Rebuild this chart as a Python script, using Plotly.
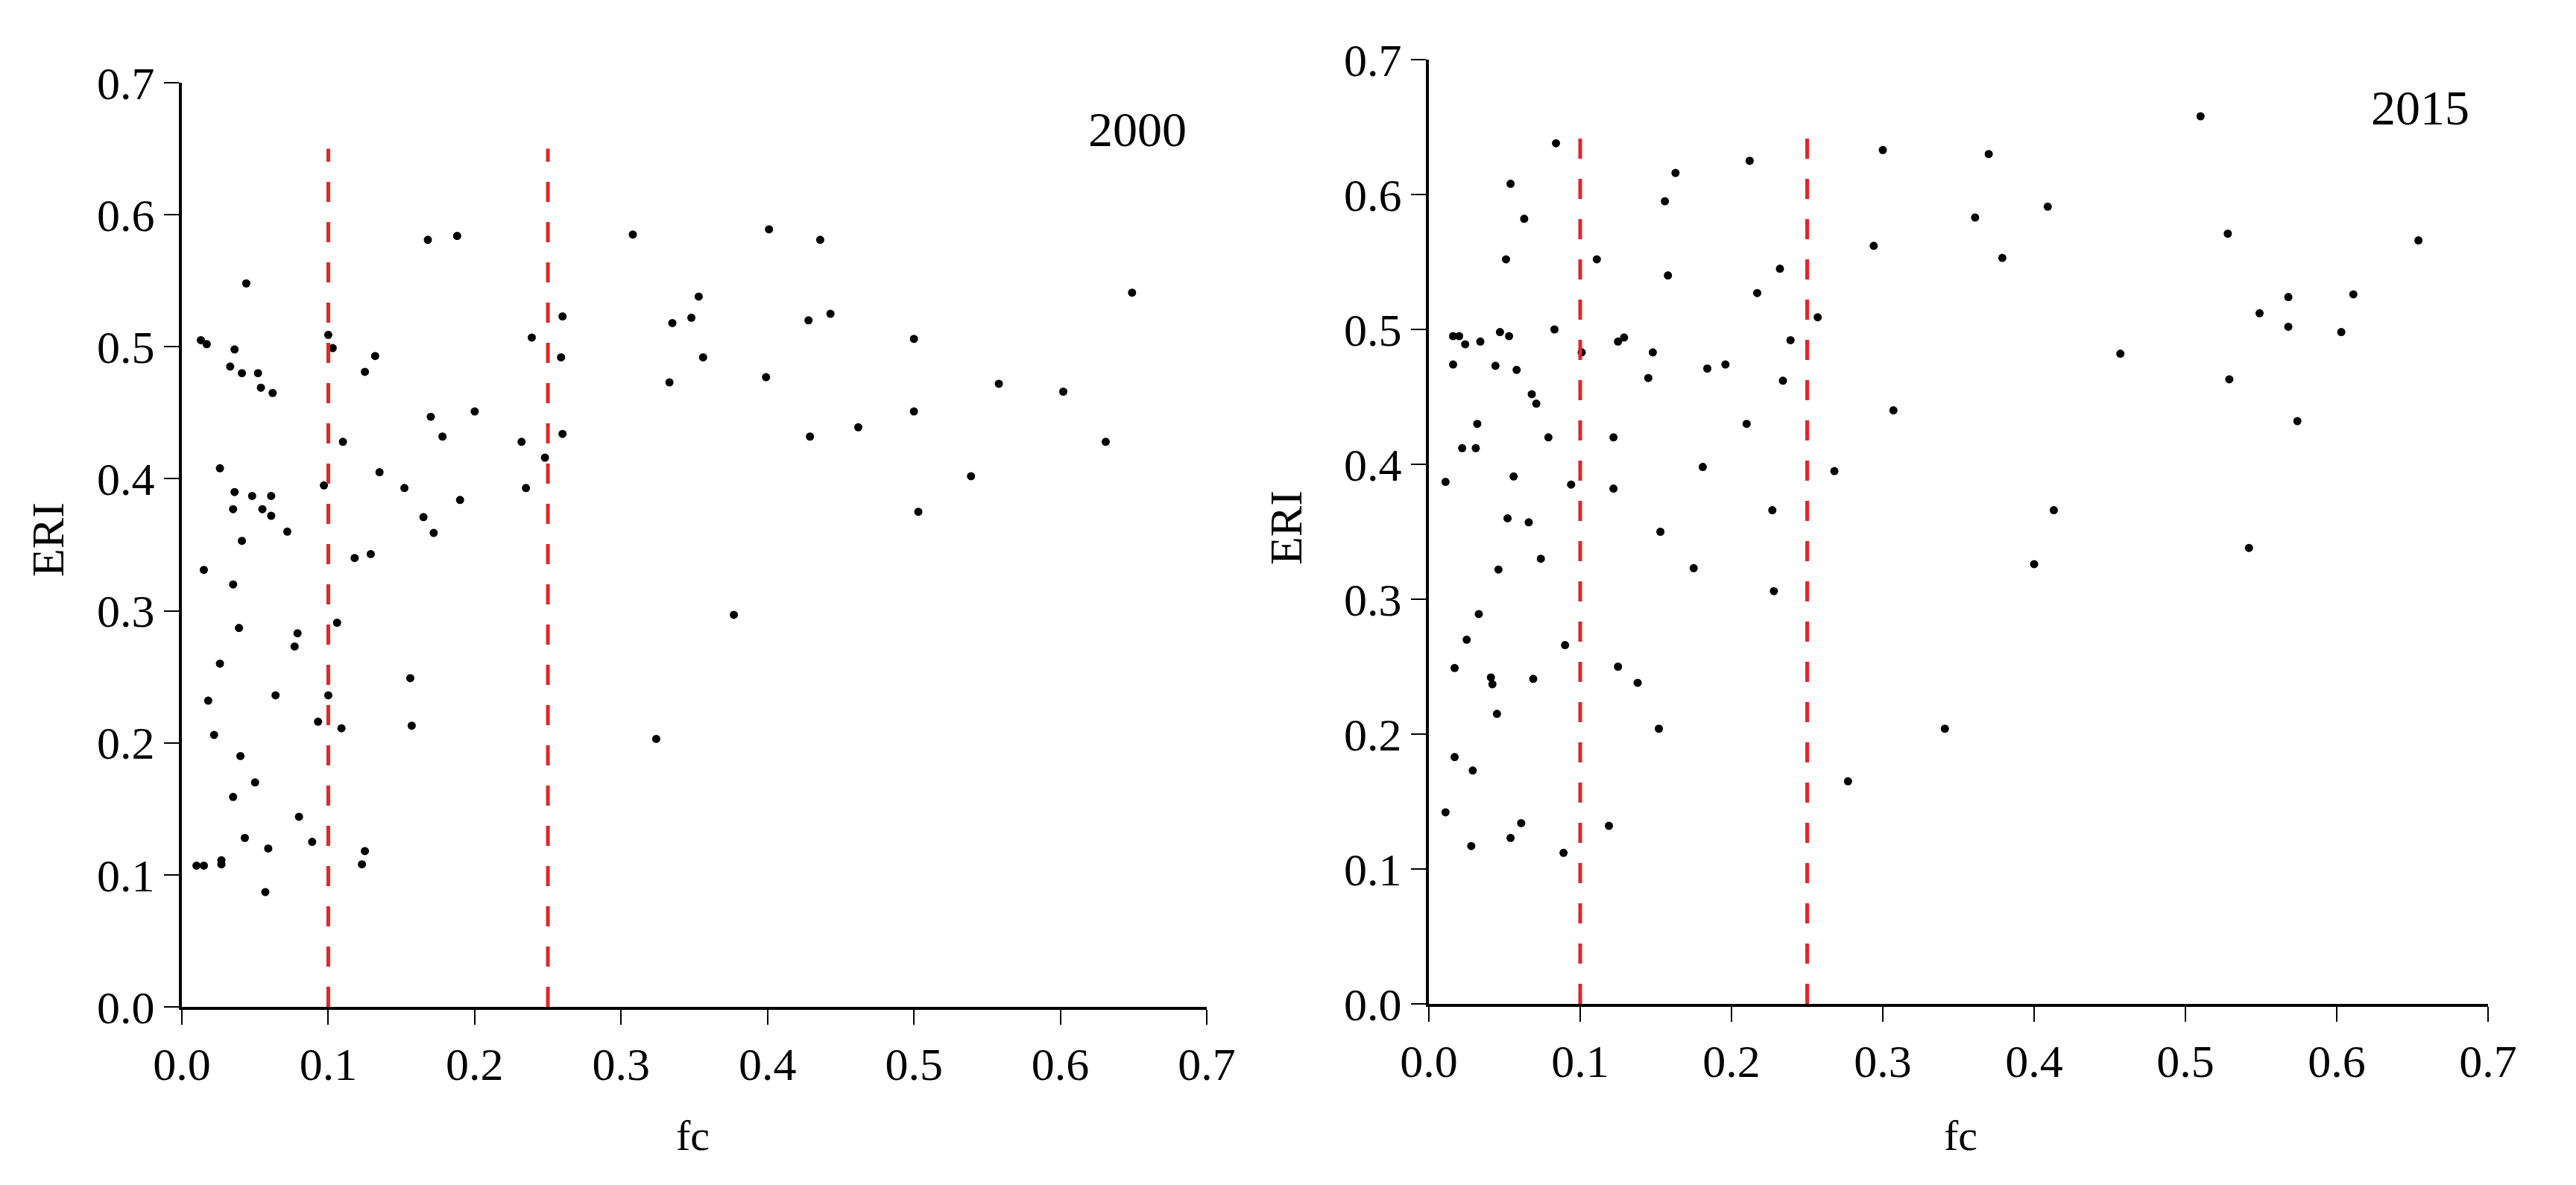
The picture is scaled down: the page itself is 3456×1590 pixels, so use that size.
import plotly.graph_objects as go

# 2000 panel: vegetation cover (fc) vs ERI
fc_2000 = [0.044, 0.013, 0.017, 0.036, 0.033, 0.041, 0.052, 0.054, 0.062, 0.100,
           0.103, 0.132, 0.125, 0.168, 0.188, 0.170, 0.178, 0.200, 0.232, 0.235,
           0.110, 0.026, 0.097, 0.036, 0.048, 0.061, 0.035, 0.055, 0.061, 0.072,
           0.041, 0.135, 0.152, 0.190, 0.165, 0.172, 0.015, 0.035, 0.118, 0.129,
           0.039, 0.079, 0.077, 0.106, 0.026, 0.156, 0.018, 0.064, 0.100, 0.022,
           0.093, 0.109, 0.157, 0.040, 0.050, 0.035, 0.080, 0.043, 0.089, 0.059,
           0.125, 0.123, 0.010, 0.015, 0.027, 0.027, 0.057,
           0.308, 0.401, 0.436, 0.353, 0.260, 0.335, 0.348, 0.428, 0.443, 0.239,
           0.259, 0.356, 0.333, 0.399, 0.248, 0.260, 0.429, 0.462, 0.377, 0.324,
           0.649, 0.500, 0.558, 0.602, 0.500, 0.631, 0.539, 0.503]
eri_2000 = [0.548, 0.505, 0.502, 0.498, 0.485, 0.480, 0.480, 0.469, 0.465, 0.509,
            0.499, 0.493, 0.481, 0.581, 0.584, 0.447, 0.432, 0.451, 0.428, 0.393,
            0.428, 0.408, 0.395, 0.390, 0.387, 0.387, 0.377, 0.377, 0.372, 0.360,
            0.353, 0.405, 0.393, 0.384, 0.371, 0.359, 0.331, 0.320, 0.340, 0.343,
            0.287, 0.283, 0.273, 0.291, 0.260, 0.249, 0.232, 0.236, 0.236, 0.206,
            0.216, 0.211, 0.213, 0.190, 0.170, 0.159, 0.144, 0.128, 0.125, 0.120,
            0.118, 0.108, 0.107, 0.107, 0.108, 0.111, 0.087,
            0.585, 0.589, 0.581, 0.538, 0.523, 0.518, 0.522, 0.520, 0.525, 0.507,
            0.492, 0.492, 0.473, 0.477, 0.416, 0.434, 0.432, 0.439, 0.297, 0.203,
            0.541, 0.506, 0.472, 0.466, 0.451, 0.428, 0.402, 0.375]

# 2015 panel
fc_2015 = [0.084, 0.054, 0.063, 0.051, 0.111, 0.163, 0.156, 0.212, 0.158, 0.232,
           0.217, 0.016, 0.020, 0.024, 0.034, 0.047, 0.053, 0.083, 0.016, 0.044,
           0.058, 0.101, 0.125, 0.129, 0.148, 0.145, 0.184, 0.196, 0.234, 0.068,
           0.071, 0.032, 0.022, 0.031, 0.079, 0.122, 0.210, 0.011, 0.056, 0.094,
           0.122, 0.181, 0.052, 0.066, 0.227, 0.074, 0.046, 0.153, 0.175, 0.228,
           0.033, 0.025, 0.090, 0.017, 0.041, 0.042, 0.069, 0.125, 0.138, 0.045,
           0.152, 0.017, 0.029, 0.011, 0.061, 0.119, 0.028, 0.054, 0.089,
           0.300, 0.370, 0.361, 0.409, 0.294, 0.379, 0.257, 0.239, 0.307, 0.457,
           0.268, 0.413, 0.400, 0.341, 0.277,
           0.510, 0.528, 0.654, 0.568, 0.549, 0.611, 0.568, 0.603, 0.529, 0.574,
           0.542]
eri_2015 = [0.638, 0.608, 0.582, 0.552, 0.552, 0.616, 0.595, 0.625, 0.540, 0.545,
            0.527, 0.495, 0.495, 0.489, 0.491, 0.498, 0.495, 0.500, 0.474, 0.473,
            0.470, 0.483, 0.491, 0.494, 0.483, 0.464, 0.471, 0.474, 0.462, 0.452,
            0.445, 0.430, 0.412, 0.412, 0.420, 0.420, 0.430, 0.387, 0.391, 0.385,
            0.382, 0.398, 0.360, 0.357, 0.366, 0.330, 0.322, 0.350, 0.323, 0.306,
            0.289, 0.270, 0.266, 0.249, 0.242, 0.237, 0.241, 0.250, 0.238, 0.215,
            0.204, 0.183, 0.173, 0.142, 0.134, 0.132, 0.117, 0.123, 0.112,
            0.633, 0.630, 0.583, 0.591, 0.562, 0.553, 0.509, 0.492, 0.440, 0.482,
            0.395, 0.366, 0.326, 0.204, 0.165,
            0.658, 0.571, 0.566, 0.524, 0.512, 0.526, 0.502, 0.498, 0.463, 0.432,
            0.338]

thresholds = [0.1, 0.25]
threshold_top = 0.65
years = ["2000", "2015"]

FONT = "Liberation Serif"
W, H = 3456, 1590

fig = go.Figure()

panels = [(fc_2000, eri_2000, "x", "y"), (fc_2015, eri_2015, "x2", "y2")]
for fc, eri, xa, ya in panels:
    fig.add_trace(go.Scatter(x=fc, y=eri, xaxis=xa, yaxis=ya, mode="markers",
                             marker=dict(color="black", size=11, line=dict(width=0)),
                             showlegend=False))
    for t in thresholds:
        fig.add_trace(go.Scatter(x=[t, t], y=[0, threshold_top], xaxis=xa, yaxis=ya,
                                 mode="lines",
                                 line=dict(color="#e3262b", width=5, dash="27px,27px"),
                                 showlegend=False))

axis_common = dict(range=[0, 0.7], dtick=0.1, tick0=0, tickformat=".1f",
                   showline=True, linecolor="black", linewidth=4,
                   ticks="outside", ticklen=20, tickwidth=2, tickcolor="black",
                   showgrid=False, zeroline=False, automargin=False,
                   tickfont=dict(family=FONT, size=62, color="black"))

def px_x(p):
    return p / W

def px_y(p):
    return 1 - p / H

fig.update_layout(
    width=W, height=H, autosize=False,
    margin=dict(l=0, r=0, t=0, b=0, pad=0, autoexpand=False),
    paper_bgcolor="white", plot_bgcolor="white",
    showlegend=False,
    xaxis=dict(domain=[px_x(236), px_x(1611)], anchor="y", **axis_common),
    yaxis=dict(domain=[px_y(1343), px_y(103)], anchor="x", **axis_common),
    xaxis2=dict(domain=[px_x(1909), px_x(3330)], anchor="y2", **axis_common),
    yaxis2=dict(domain=[px_y(1339), px_y(72)], anchor="x2", **axis_common),
)

labels = [
    ("ERI", 56, 716, -90, 62),
    ("ERI", 1717, 700, -90, 62),
    ("fc", 922, 1515, 0, 58),
    ("fc", 2622, 1515, 0, 58),
    (years[0], 1518, 166, 0, 66),
    (years[1], 3239, 137, 0, 66),
]
for text, cx, cy, ang, size in labels:
    fig.add_annotation(text=text, x=px_x(cx), y=px_y(cy), xref="paper", yref="paper",
                       xanchor="center", yanchor="middle", showarrow=False,
                       textangle=ang, font=dict(family=FONT, size=size, color="black"))

fig.write_html("out.html", config={"responsive": False})
